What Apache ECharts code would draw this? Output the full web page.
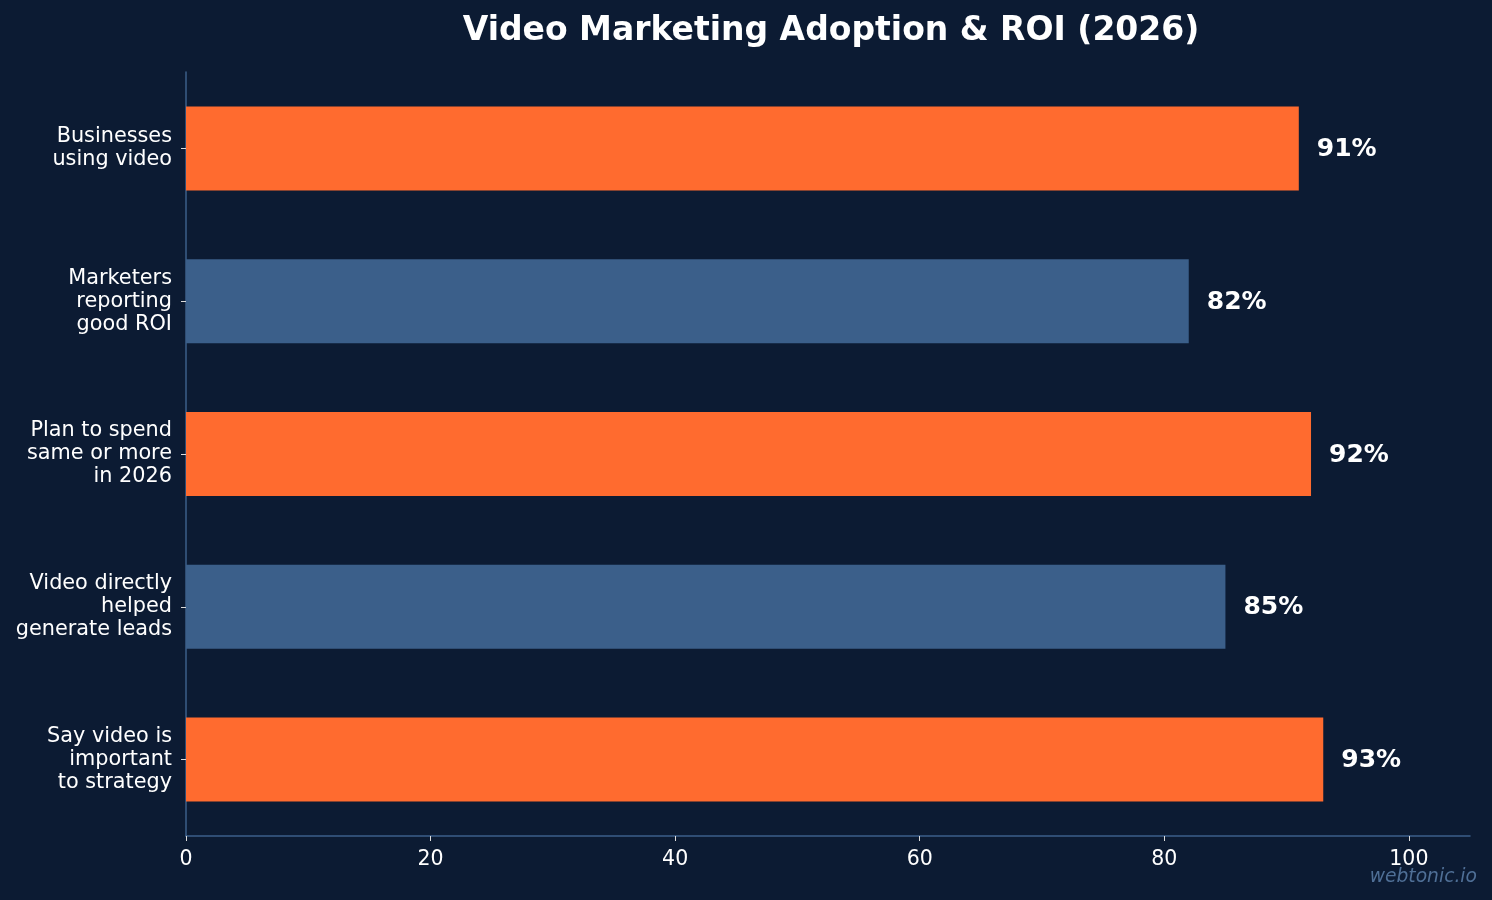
<!DOCTYPE html>
<html>
<head>
<meta charset="utf-8">
<script src="https://cdn.jsdelivr.net/npm/echarts@6/dist/echarts.min.js"></script>
<style>
  html, body { margin: 0; padding: 0; background: #0c1b33; }
  #chart { width: 1492px; height: 900px; }
</style>
</head>
<body>
<div id="chart"></div>
<script>
// data
var categories = [
  'Businesses\nusing video',
  'Marketers\nreporting\ngood ROI',
  'Plan to spend\nsame or more\nin 2026',
  'Video directly\nhelped\ngenerate leads',
  'Say video is\nimportant\nto strategy'
];
var values = [91, 82, 92, 85, 93];
var barColors = ['#ff6b2f', '#3b5f8a', '#ff6b2f', '#3b5f8a', '#ff6b2f'];
var xTicks = [0, 20, 40, 60, 80, 100];

var chart = echarts.init(document.getElementById('chart'));

var option = {
  backgroundColor: '#0c1b33',
  textStyle: { fontFamily: 'DejaVu Sans' },
  title: {
    text: 'Video Marketing Adoption & ROI (2026)',
    left: 826,
    textAlign: 'center',
    top: 10,
    textStyle: { color: '#ffffff', fontSize: 33, fontWeight: 'bold', fontFamily: 'DejaVu Sans' }
  },
  graphic: [{
    type: 'text',
    right: 15,
    bottom: 13,
    style: {
      text: 'webtonic.io',
      fill: '#4f6f96',
      font: 'italic 18.7px "DejaVu Sans"'
    }
  }],
  grid: { left: 186, right: 22, top: 72, bottom: 64 },
  xAxis: {
    type: 'value',
    min: 0,
    max: 105,
    interval: 20,
    axisLine: { show: true, lineStyle: { color: '#3b5f8a', width: 1.5 } },
    axisTick: { show: true, length: 5, customValues: xTicks, lineStyle: { color: '#dddddd' } },
    splitLine: { show: false },
    axisLabel: {
      color: '#ffffff', fontSize: 20.5, margin: 13,
      customValues: xTicks
    }
  },
  yAxis: {
    type: 'category',
    data: categories,
    inverse: true,
    axisLine: { show: true, lineStyle: { color: '#3b5f8a', width: 1.5 } },
    axisTick: { show: true, alignWithLabel: true, length: 5, lineStyle: { color: '#dddddd' } },
    axisLabel: {
      color: '#ffffff', fontSize: 20.8, lineHeight: 23, align: 'right', margin: 14,
      padding: [8, 0, 0, 0],
      backgroundColor: 'rgba(0,0,0,0)'
    }
  },
  series: [{
    type: 'bar',
    barWidth: 84,
    data: values.map(function (v, i) {
      return { value: v, itemStyle: { color: barColors[i] } };
    }),
    label: {
      show: true,
      position: 'right',
      distance: 18,
      offset: [0, 1],
      color: '#ffffff',
      fontSize: 25,
      fontWeight: 'bold',
      formatter: '{c}%'
    }
  }]
};

chart.setOption(option);
</script>
</body>
</html>
